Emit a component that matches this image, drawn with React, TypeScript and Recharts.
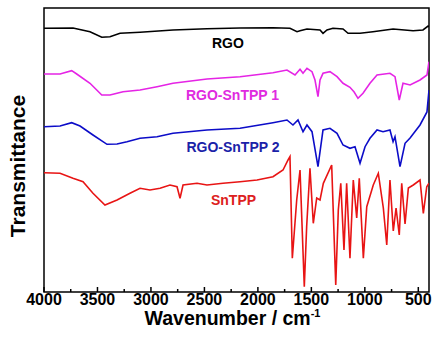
import { LineChart, Line, XAxis, YAxis, ReferenceArea, ReferenceDot } from "recharts";

const FONT = "Arial, 'Liberation Sans', sans-serif";

// [wavenumber (cm-1), transmittance (a.u., traces offset)]
const rgo: [number, number][] = [
  [4000, 263.7], [3729, 264], [3570, 260.3], [3460, 254.7], [3383, 255.3],
  [3289, 258.7], [3102, 259.7], [2794, 262], [2476, 263.3], [2167, 264],
  [1859, 264.3], [1700, 263.7], [1634, 260.3], [1606, 261.3], [1541, 263],
  [1419, 262], [1391, 258.7], [1354, 262], [1298, 263.7], [1204, 263],
  [1157, 258.7], [1045, 258.7], [924, 260.3], [736, 263], [549, 261.3],
  [456, 262], [409, 266], [400, 265],
];

const rgoSnTPP1: [number, number][] = [
  [4000, 218], [3850, 218], [3741, 221.3], [3694, 218], [3570, 208.7],
  [3460, 197], [3383, 197], [3261, 200.3], [3102, 202], [2943, 205.3],
  [2794, 208.7], [2476, 213], [2167, 215.3], [1859, 219.3], [1728, 222],
  [1653, 217], [1606, 222.7], [1578, 218.7], [1541, 223.7], [1494, 220.3],
  [1466, 212], [1438, 195.3], [1419, 212], [1391, 218.7], [1326, 220.3],
  [1260, 215.3], [1204, 208.7], [1139, 204.7], [1100, 200], [1064, 193.7],
  [1017, 198.7], [952, 208.7], [886, 217], [765, 218.7], [718, 215.3],
  [678, 192], [643, 208.7], [577, 207], [484, 212], [419, 217], [400, 230.3],
];

const rgoSnTPP2: [number, number][] = [
  [4000, 165.3], [3850, 166], [3741, 169.3], [3663, 166], [3542, 157],
  [3411, 147.7], [3317, 148], [3224, 150.3], [3102, 153.7], [2943, 155.3],
  [2794, 158.7], [2476, 162], [2167, 163.7], [1859, 169.3], [1728, 172],
  [1672, 167], [1625, 172], [1578, 160.3], [1541, 167], [1494, 160.3],
  [1438, 125.3], [1391, 162], [1326, 163.7], [1260, 158.7], [1204, 147],
  [1139, 143.7], [1092, 145.3], [1045, 128.7], [998, 145.3], [952, 153.7],
  [886, 162], [830, 160.3], [765, 162], [736, 150.3], [718, 155.3],
  [671, 125.3], [624, 148.7], [577, 154], [484, 167], [419, 180], [400, 202],
];

const snTPP: [number, number][] = [
  [4000, 119.3], [3850, 118.7], [3729, 113.7], [3635, 110.3], [3542, 98.7],
  [3430, 87], [3317, 92], [3196, 98.7], [3102, 103.7], [3009, 102],
  [2915, 103.7], [2822, 107], [2756, 105.3], [2728, 93.7], [2700, 107],
  [2569, 108.7], [2476, 107], [2326, 108.7], [2167, 110.3], [2008, 112],
  [1859, 115.3], [1765, 122], [1718, 132], [1700, 135.3], [1678, 33.7],
  [1637, 92], [1606, 122], [1566, 5.3], [1544, 65.3], [1513, 123.7],
  [1482, 68.7], [1450, 94], [1419, 92], [1388, 108.7], [1310, 127],
  [1272, 7], [1248, 82], [1225, 108.7], [1195, 42], [1170, 108.7],
  [1139, 33.7], [1108, 112], [1076, 74], [1052, 113.7], [1014, 33.7],
  [982, 85.3], [921, 107], [874, 118.7], [827, 84], [795, 47],
  [765, 112], [734, 61], [708, 84], [678, 57], [655, 108.7],
  [624, 68], [593, 104], [547, 107], [484, 112], [453, 78.7],
  [421, 105.3], [400, 108.7],
];

const X_TICKS = [4000, 3750, 3500, 3250, 3000, 2750, 2500, 2250, 2000, 1750, 1500, 1250, 1000, 750, 500];

const SERIES = [
  { name: "RGO", data: rgo, stroke: "#000000", text: "#000000", at: [2280, 249] },
  { name: "RGO-SnTPP 1", data: rgoSnTPP1, stroke: "#e524e5", text: "#e02ae0", at: [2237, 197] },
  { name: "RGO-SnTPP 2", data: rgoSnTPP2, stroke: "#0c0cc8", text: "#1a22a8", at: [2233, 145] },
  { name: "SnTPP", data: snTPP, stroke: "#e81414", text: "#dd2020", at: [2228, 92] },
];

function WaveTick({ x, y, payload }: any) {
  const major = payload.value % 500 === 0;
  return (
    <g>
      <line x1={x} x2={x} y1={y} y2={y - (major ? 5 : 3)} stroke="#000" strokeWidth={1.5} />
      {major && (
        <text x={x} y={y + 12.5} textAnchor="middle" fontSize={16} fontWeight="bold" fontFamily={FONT} fill="#000">
          {payload.value}
        </text>
      )}
    </g>
  );
}

export default function App() {
  return (
    <div style={{ position: "absolute", left: 0, top: 0, background: "#fff" }}>
      <LineChart width={434} height={344} margin={{ top: 8, right: 5, bottom: 0, left: 0 }}>
        <XAxis
          type="number"
          dataKey="w"
          domain={[400, 4000]}
          reversed
          ticks={X_TICKS}
          interval={0}
          height={52}
          tickSize={0}
          tickMargin={0}
          tickLine={false}
          axisLine={false}
          tick={<WaveTick />}
          allowDataOverflow
          label={{
            content: ({ viewBox }: any) => (
              <text
                x={viewBox.x + viewBox.width / 2 - 4}
                y={viewBox.y + 33}
                textAnchor="middle"
                fontSize={19.5}
                fontWeight="bold"
                fontFamily={FONT}
                fill="#000"
              >
                Wavenumber / cm
                <tspan fontSize={11} dy={-8}>-1</tspan>
              </text>
            ),
          }}
        />
        <YAxis
          type="number"
          domain={[0, 284]}
          width={44}
          tick={false}
          tickLine={false}
          axisLine={false}
          allowDataOverflow
          label={{
            content: ({ viewBox }: any) => {
              const cx = viewBox.x + 17;
              const cy = viewBox.y + viewBox.height / 2 + 16;
              return (
                <text
                  x={cx}
                  y={cy}
                  transform={`rotate(-90 ${cx} ${cy})`}
                  textAnchor="middle"
                  dominantBaseline="central"
                  fontSize={21}
                  fontWeight="bold"
                  fontFamily={FONT}
                  fill="#000"
                >
                  Transmittance
                </text>
              );
            },
          }}
        />
        <ReferenceArea x1={4000} x2={400} y1={0} y2={284} fill="none" stroke="#000" strokeWidth={1.5} />
        {SERIES.map((s) => (
          <Line
            key={s.name}
            data={s.data.map(([w, t]) => ({ w, t }))}
            dataKey="t"
            type="linear"
            stroke={s.stroke}
            strokeWidth={1.6}
            dot={false}
            isAnimationActive={false}
          />
        ))}
        {SERIES.map((s) => (
          <ReferenceDot
            key={s.name + "-label"}
            x={s.at[0]}
            y={s.at[1]}
            r={0}
            fill="none"
            stroke="none"
            label={{
              value: s.name,
              position: "center",
              fill: s.text,
              fontSize: 14,
              fontWeight: "bold",
              fontFamily: FONT,
            }}
          />
        ))}
      </LineChart>
    </div>
  );
}
